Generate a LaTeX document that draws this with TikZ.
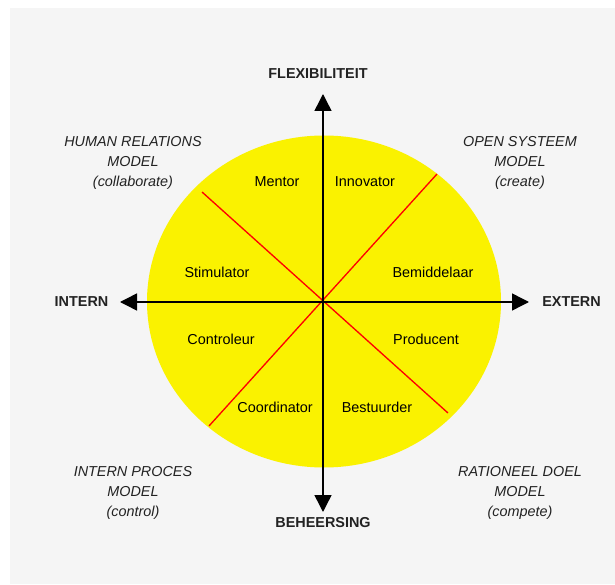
\documentclass[tikz,border=0pt]{standalone}
\usepackage{fontspec}
\setmainfont{Liberation Sans}
\usetikzlibrary{arrows.meta}

\definecolor{panelgray}{HTML}{F5F5F5}
\definecolor{kwadrantgeel}{RGB}{250,242,0}
\definecolor{tekstgrijs}{HTML}{222222}

\tikzset{
  rol/.style={font=\fontsize{10.8}{13}\selectfont},
  as/.style={font=\fontsize{10.8}{13}\selectfont\bfseries, text=tekstgrijs},
  model/.style={font=\fontsize{10.8}{15}\selectfont\itshape, text=tekstgrijs, align=center},
  axis/.style={line width=1.1pt, {Triangle[length=12.75pt,width=12.75pt]}-{Triangle[length=12.75pt,width=12.75pt]}},
  grens/.style={red, line width=1pt}
}

\begin{document}
\begin{tikzpicture}[x=0.75pt,y=-0.75pt]
\useasboundingbox (0,0) rectangle (615,585);
\fill[white] (0,0) rectangle (615,585);
\fill[panelgray] (10,8) rectangle (615,584);
\fill[kwadrantgeel] (324,301.5) ellipse [x radius=132.75pt, y radius=124.5pt];

% grenzen tussen de rollen
\coordinate (lb) at (202,192);
\coordinate (ro) at (448,413);
\coordinate (rb) at (437,174);
\coordinate (lo) at (209,426);
\draw[grens] (lb) -- (ro);
\draw[grens] (rb) -- (lo);

% assen
\coordinate (N) at (323,94);
\coordinate (S) at (323,512);
\coordinate (W) at (120,302);
\coordinate (E) at (529,302);
\draw[axis] (S) -- (N);
\draw[axis] (W) -- (E);

\node[as] (flex) at (318,74) {FLEXIBILITEIT};
\node[as] (beh) at (323,523) {BEHEERSING};
\node[as] (intern) at (81.5,302) {INTERN};
\node[as] (extern) at (571.5,302) {EXTERN};

% modellen
\node[model] (hrm) at (133,162.5) {HUMAN RELATIONS\\MODEL\\(collaborate)};
\node[model] (osm) at (520,162.5) {OPEN SYSTEEM\\MODEL\\(create)};
\node[model] (ipm) at (133,493) {INTERN PROCES\\MODEL\\(control)};
\node[model] (rdm) at (520,493) {RATIONEEL DOEL\\MODEL\\(compete)};

% rollen
\node[rol] (mentor) at (277,182) {Mentor};
\node[rol] (innovator) at (365,182) {Innovator};
\node[rol] (stimulator) at (217,272) {Stimulator};
\node[rol] (bemiddelaar) at (433,272) {Bemiddelaar};
\node[rol] (controleur) at (221,339) {Controleur};
\node[rol] (producent) at (426,339) {Producent};
\node[rol] (coordinator) at (275,407) {Coordinator};
\node[rol] (bestuurder) at (377,407) {Bestuurder};
\end{tikzpicture}
\end{document}
